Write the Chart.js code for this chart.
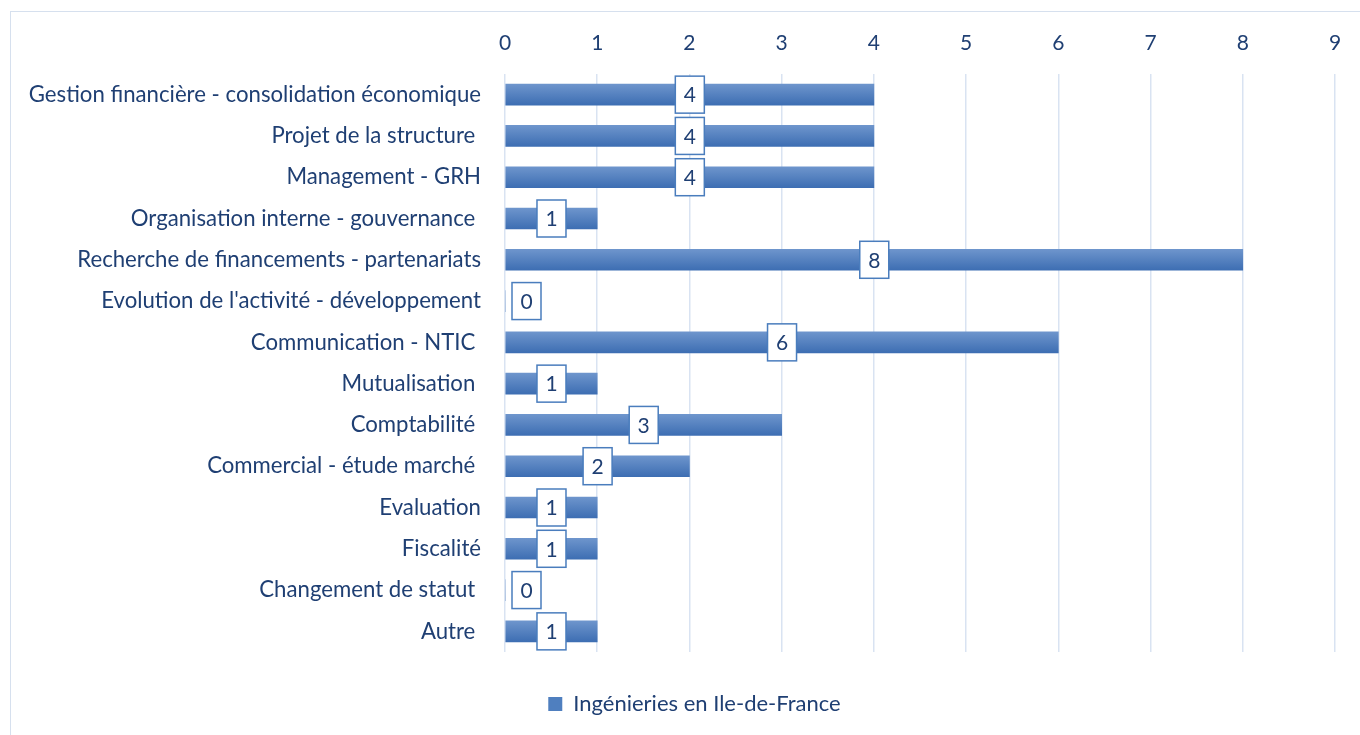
<!DOCTYPE html>
<html>
<head>
<meta charset="utf-8">
<script src="https://cdn.jsdelivr.net/npm/chart.js@4"></script>
<style>
  body { margin: 0; background: #fff; }
  #frame { position: absolute; left: 10px; top: 11px; width: 1400px; height: 800px; border: 1.5px solid #D6E0EE; }
  #bar-chart { position: absolute; left: 0; top: 0; }
</style>
</head>
<body>
<div id="frame"></div>
<canvas id="bar-chart" width="1360" height="735"></canvas>
<script>
const categories = [
    'Gestion financière - consolidation économique',
    'Projet de la structure ',
    'Management - GRH',
    'Organisation interne - gouvernance ',
    'Recherche de financements - partenariats',
    "Evolution de l'activité - développement",
    'Communication - NTIC ',
    'Mutualisation ',
    'Comptabilité ',
    'Commercial - étude marché ',
    'Evaluation',
    'Fiscalité',
    'Changement de statut ',
    'Autre '
];
const values = [4, 4, 4, 1, 8, 0, 6, 1, 3, 2, 1, 1, 0, 1];
const seriesName = 'Ingénieries en Ile-de-France';
const xTicks = [0, 1, 2, 3, 4, 5, 6, 7, 8, 9];

const textColor = '#1F3F73';
const fontFamily = 'Lato, "Open Sans", sans-serif';

// gradient per bar, light on top, darker at the bottom
function barFill(context) {
    const chart = context.chart;
    const yScale = chart.scales.y;
    if (!yScale || !chart.chartArea) return '#4F81BD';
    const cy = yScale.getPixelForValue(context.dataIndex);
    const g = chart.ctx.createLinearGradient(0, cy - 11, 0, cy + 11);
    g.addColorStop(0, '#6F96CD');
    g.addColorStop(1, '#3C6DB2');
    return g;
}

// boxed value labels in the middle of each bar
const valueBoxes = {
    id: 'valueBoxes',
    afterDatasetsDraw(chart) {
        const ctx = chart.ctx;
        const meta = chart.getDatasetMeta(0);
        const bw = 29, bh = 37;
        ctx.save();
        ctx.font = '21px ' + fontFamily;
        ctx.textAlign = 'center';
        ctx.textBaseline = 'middle';
        meta.data.forEach((bar, i) => {
            let cx = (bar.x + bar.base) / 2;
            cx = Math.max(cx, bar.base + 7 + bw / 2);
            const cy = bar.y;
            ctx.fillStyle = '#fff';
            ctx.fillRect(cx - bw / 2, cy - bh / 2, bw, bh);
            ctx.strokeStyle = '#4A7DBD';
            ctx.lineWidth = 1.5;
            ctx.strokeRect(cx - bw / 2, cy - bh / 2, bw, bh);
            ctx.fillStyle = textColor;
            ctx.fillText(String(values[i]), cx, cy + 1);
        });
        ctx.restore();
    }
};

// fixed legend band height under the plot, centred a bit right like the original
const legendBand = {
    id: 'legendBand',
    beforeLayout(chart) {
        const lg = chart.legend;
        if (lg && !lg._banded) {
            const fit = lg.fit;
            lg.fit = function () { fit.call(this); this.height = 83; };
            lg._banded = true;
        }
    },
    afterLayout(chart) {
        if (chart.legend) chart.legend.left = 54;
    }
};

const barChart = new Chart(document.querySelector('#bar-chart').getContext('2d'), {
    type: 'bar',
    data: {
        labels: categories,
        datasets: [{
            label: seriesName,
            data: values,
            backgroundColor: barFill,
            borderWidth: 0,
            barThickness: 21
        }]
    },
    options: {
        indexAxis: 'y',
        responsive: false,
        maintainAspectRatio: false,
        animation: false,
        layout: { padding: { top: 0, right: 25, bottom: 0, left: 0 } },
        scales: {
            x: {
                position: 'top',
                min: 0,
                max: 9,
                afterBuildTicks(axis) { axis.ticks = xTicks.map(v => ({ value: v })); },
                afterFit(axis) { axis.height = 74; },
                grid: { color: '#D9E3F2', lineWidth: 1.5, drawTicks: false },
                border: { display: false },
                ticks: { color: textColor, font: { family: fontFamily, size: 21 }, padding: 18 }
            },
            y: {
                afterFit(axis) { axis.width = 505; },
                grid: { display: false, drawTicks: false },
                border: { display: false },
                ticks: { color: textColor, font: { family: fontFamily, size: 22.2 }, padding: 24, autoSkip: false }
            }
        },
        plugins: {
            legend: {
                position: 'bottom',
                labels: {
                    color: textColor,
                    font: { family: fontFamily, size: 22 },
                    boxWidth: 14,
                    boxHeight: 14,
                    padding: 41,
                    generateLabels(chart) {
                        return [{ text: seriesName, fillStyle: '#4F7FBF', strokeStyle: '#4F7FBF', lineWidth: 0, datasetIndex: 0, fontColor: textColor }];
                    }
                }
            },
            tooltip: { enabled: false }
        }
    },
    plugins: [valueBoxes, legendBand]
});
</script>
</body>
</html>
